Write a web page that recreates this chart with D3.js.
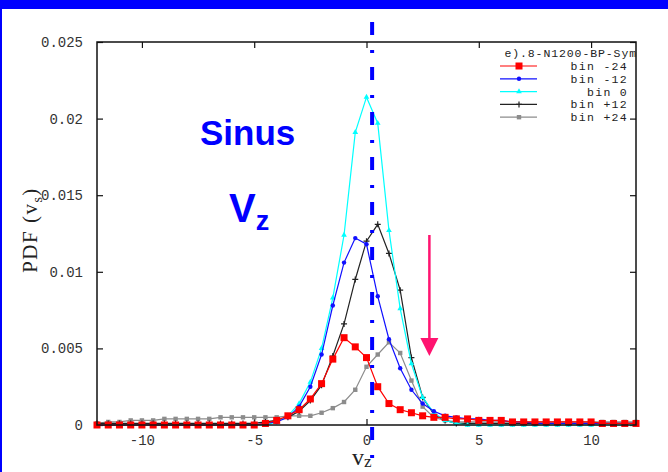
<!DOCTYPE html>
<html>
<head>
<meta charset="utf-8">
<script src="https://cdn.jsdelivr.net/npm/d3@7"></script>
<style>
  body { margin: 0; background: #fff; }
  svg { display: block; }
</style>
</head>
<body>
<svg id="chart" width="668" height="472"></svg>
<script>
// velocity bins (v_z)
const vz = [-12, -11.5, -11, -10.5, -10, -9.5, -9, -8.5, -8, -7.5, -7, -6.5, -6, -5.5, -5, -4.5, -4, -3.5,
            -3, -2.5, -2, -1.5, -1, -0.5, 0, 0.5, 1, 1.5, 2, 2.5, 3, 3.5, 4, 4.5, 5, 5.5, 6, 6.5, 7, 7.5,
            8, 8.5, 9, 9.5, 10, 10.5, 11, 11.5, 12];

const pdfBinM24 = [0, 0, 0, 0, 0, 0, 0, 0, 0, 0, 0, 0, 0, 0, 0, 0.0001, 0.0003, 0.0006,
                   0.0010, 0.0017, 0.0027, 0.0043, 0.0057, 0.0051, 0.0044, 0.0025, 0.0014, 0.0010, 0.0008, 0.0006, 0.0005, 0.0005, 0.0004, 0.0004, 0.0003, 0.0003, 0.0003, 0.0002, 0.0002, 0.0002,
                   0.0002, 0.0002, 0.0002, 0.0002, 0.0002, 0.0001, 0.0001, 0.0001, 0.0001];
const pdfBinM12 = [0, 0, 0, 0, 0, 0, 0, 0, 0, 0, 0, 0, 0, 0, 0, 0.0001, 0.0002, 0.0005,
                   0.0012, 0.0025, 0.0046, 0.0078, 0.0106, 0.0122, 0.0118, 0.0084, 0.0056, 0.0037, 0.0023, 0.0014, 0.0009, 0.0006, 0.0005, 0.0004, 0.0004, 0.0003, 0.0003, 0.0002, 0.0002, 0.0001,
                   0.0001, 0.0001, 0.0001, 0.0001, 0.0001, 0.0001, 0.0001, 0.0001, 0.0001];
const pdfBin0 = [0, 0, 0, 0, 0, 0, 0, 0, 0, 0, 0, 0, 0, 0, 0, 0, 0.0002, 0.0006,
                 0.0014, 0.0028, 0.0050, 0.0083, 0.0124, 0.0191, 0.0214, 0.0197, 0.0127, 0.0076, 0.0040, 0.0018, 0.0008, 0.0003, 0.0001, 0, 0, 0, 0, 0, 0, 0,
                 0, 0, 0, 0, 0, 0, 0, 0, 0];
const pdfBinP12 = [0.0001, 0.0001, 0.0001, 0.0001, 0.0001, 0.0001, 0.0001, 0.0001, 0.0001, 0.0001, 0.0001, 0.0001, 0.0001, 0.0001, 0.0001, 0.0002, 0.0003, 0.0005,
                   0.0009, 0.0016, 0.0026, 0.0045, 0.0066, 0.0095, 0.0120, 0.0131, 0.0112, 0.0088, 0.0044, 0.0018, 0.0007, 0.0003, 0.0001, 0.0001, 0.0001, 0.0001, 0.0001, 0.0001, 0.0001, 0.0001,
                   0.0001, 0.0001, 0.0001, 0.0001, 0.0001, 0.0001, 0.0001, 0.0001, 0.0001];
const pdfBinP24 = [0.0001, 0.0002, 0.0002, 0.0003, 0.0003, 0.0003, 0.0004, 0.0004, 0.0004, 0.0004, 0.0004, 0.0005, 0.0005, 0.0005, 0.0005, 0.0005, 0.0005, 0.0006,
                   0.0006, 0.0006, 0.0008, 0.0011, 0.0015, 0.0023, 0.0038, 0.0046, 0.0054, 0.0047, 0.0029, 0.0012, 0.0005, 0.0003, 0.0002, 0.0002, 0.0002, 0.0002, 0.0002, 0.0002, 0.0002, 0.0002,
                   0.0002, 0.0002, 0.0002, 0.0002, 0.0002, 0.0002, 0.0002, 0.0002, 0.0002];

const binNames = ["bin -24", "bin -12", "bin 0", "bin +12", "bin +24"];
const legendTitle = "e).8-N1200-BP-Sym";

const xTicks = [-10, -5, 0, 5, 10];
const xTickLabels = ["-10", "-5", "0", "5", "10"];
const yTicks = [0, 0.005, 0.01, 0.015, 0.02, 0.025];
const yTickLabels = ["0", "0.005", "0.01", "0.015", "0.02", "0.025"];

const series = [
  { name: binNames[0], values: pdfBinM24, color: "#ff0000", marker: "square" },
  { name: binNames[1], values: pdfBinM12, color: "#1010ff", marker: "circle" },
  { name: binNames[2], values: pdfBin0,   color: "#00ffff", marker: "triangle" },
  { name: binNames[3], values: pdfBinP12, color: "#222222", marker: "plus" },
  { name: binNames[4], values: pdfBinP24, color: "#8c8c8c", marker: "smallsquare" }
];

const W = 668, H = 472;
const plot = { left: 97, right: 636, top: 42, bottom: 425 };

const svg = d3.select("#chart");

const x = d3.scaleLinear().domain([-12, 12]).range([plot.left, plot.right]);
const y = d3.scaleLinear().domain([0, 0.025]).range([plot.bottom, plot.top]);

// slide decoration: blue band on top and a thin blue left edge
svg.append("rect").attr("x", 0).attr("y", 0).attr("width", W).attr("height", 9).attr("fill", "#0000ff");
svg.append("rect").attr("x", 0).attr("y", 0).attr("width", 2).attr("height", H).attr("fill", "#0000ff");

const tickFont = "'Liberation Mono', 'DejaVu Sans Mono', monospace";

function styleAxis(g) {
  g.select(".domain").remove();
  g.selectAll(".tick line").attr("stroke", "#111").attr("stroke-width", 1.2);
  g.selectAll(".tick text")
    .attr("fill", "#333")
    .style("font-family", tickFont)
    .style("font-size", "14px");
}

// axes with inward ticks, mirrored on top and right
svg.append("g")
  .attr("transform", `translate(${plot.left},0)`)
  .call(d3.axisLeft(y).tickValues(yTicks).tickFormat((d, i) => yTickLabels[i])
    .tickSizeInner(-6).tickSizeOuter(0).tickPadding(14))
  .call(styleAxis);

svg.append("g")
  .attr("transform", `translate(${plot.right},0)`)
  .call(d3.axisRight(y).tickValues(yTicks).tickFormat("").tickSizeInner(-6).tickSizeOuter(0))
  .call(styleAxis);

svg.append("g")
  .attr("transform", `translate(0,${plot.bottom})`)
  .call(d3.axisBottom(x).tickValues(xTicks).tickFormat((d, i) => xTickLabels[i])
    .tickSizeInner(-6).tickSizeOuter(0).tickPadding(10))
  .call(styleAxis);

svg.append("g")
  .attr("transform", `translate(0,${plot.top})`)
  .call(d3.axisTop(x).tickValues(xTicks).tickFormat("").tickSizeInner(-6).tickSizeOuter(0))
  .call(styleAxis);

// curves
const line = d3.line().x((d, i) => x(vz[i])).y(d => y(d));

function drawMarker(g, type, color) {
  if (type === "square") {
    g.append("rect").attr("x", -3.5).attr("y", -3.5).attr("width", 7).attr("height", 7).attr("fill", color);
  } else if (type === "circle") {
    g.append("circle").attr("r", 2.2).attr("fill", color);
  } else if (type === "triangle") {
    g.append("path").attr("d", d3.symbol(d3.symbolTriangle, 14)()).attr("fill", color);
  } else if (type === "plus") {
    g.append("path").attr("d", "M-3,0H3M0,-3V3").attr("stroke", color).attr("stroke-width", 1.2);
  } else {
    g.append("rect").attr("x", -2.2).attr("y", -2.2).attr("width", 4.4).attr("height", 4.4).attr("fill", color);
  }
}

const drawOrder = [4, 3, 2, 1, 0];
drawOrder.forEach(k => {
  const s = series[k];
  const g = svg.append("g").attr("class", "series");
  g.append("path")
    .attr("d", line(s.values))
    .attr("fill", "none")
    .attr("stroke", s.color)
    .attr("stroke-width", 1.2);
  s.values.forEach((v, i) => {
    const m = g.append("g").attr("transform", `translate(${x(vz[i])},${y(v)})`);
    drawMarker(m, s.marker, s.color);
  });
});

// frame
svg.append("rect")
  .attr("x", plot.left).attr("y", plot.top)
  .attr("width", plot.right - plot.left).attr("height", plot.bottom - plot.top)
  .attr("fill", "none").attr("stroke", "#111").attr("stroke-width", 1.5);

// legend
const legend = svg.append("g")
  .style("font-family", tickFont).style("font-size", "11.5px").style("letter-spacing", "1.3px")
  .attr("fill", "#222");
legend.append("text").attr("x", 637).attr("y", 57).attr("text-anchor", "end")
  .style("letter-spacing", "0.9px").text(legendTitle);
series.forEach((s, i) => {
  const ly = 66 + i * 12.8;
  legend.append("line").attr("x1", 500).attr("x2", 537).attr("y1", ly).attr("y2", ly)
    .attr("stroke", s.color).attr("stroke-width", 1.2);
  drawMarker(legend.append("g").attr("transform", `translate(519,${ly})`), s.marker, s.color);
  legend.append("text").attr("x", 628).attr("y", ly + 4).attr("text-anchor", "end").text(s.name);
});

// axis titles
const serif = "'Liberation Serif', 'DejaVu Serif', serif";
const yTitle = svg.append("text")
  .attr("transform", "translate(37,230) rotate(-90)")
  .attr("text-anchor", "middle")
  .style("font-family", serif).style("font-size", "21px").style("letter-spacing", "1.5px")
  .attr("fill", "#222");
yTitle.append("tspan").text("PDF (v");
yTitle.append("tspan").attr("dy", 5).style("font-size", "14px").text("s");
yTitle.append("tspan").attr("dy", -5).text(")");

const xTitle = svg.append("text")
  .attr("x", 352).attr("y", 465)
  .style("font-family", serif).style("font-size", "24px")
  .attr("fill", "#222");
xTitle.append("tspan").text("v");
xTitle.append("tspan").attr("dy", 2).style("font-size", "17px").text("z");

// v_z = 0 marker line
svg.append("line")
  .attr("x1", x(0.25)).attr("x2", x(0.25))
  .attr("y1", 22).attr("y2", H)
  .attr("stroke", "#0000ff").attr("stroke-width", 4)
  .attr("stroke-dasharray", "13,15,3,14")
  .attr("stroke-dashoffset", 0);

// labels
const sans = "Arial, 'Liberation Sans', sans-serif";
svg.append("text").attr("x", 200).attr("y", 145)
  .style("font-family", sans).style("font-weight", "bold").style("font-size", "35px")
  .attr("fill", "#0000ff").text("Sinus");
const vzLabel = svg.append("text").attr("x", 229).attr("y", 222)
  .style("font-family", sans).style("font-weight", "bold").style("font-size", "40px")
  .attr("fill", "#0000ff");
vzLabel.append("tspan").text("V");
vzLabel.append("tspan").attr("dy", 8).style("font-size", "27px").text("z");

// arrow
const arrowX = x(2.8);
svg.append("line")
  .attr("x1", arrowX).attr("x2", arrowX).attr("y1", 235).attr("y2", 342)
  .attr("stroke", "#ff1470").attr("stroke-width", 2.5);
svg.append("path")
  .attr("d", `M${arrowX - 9},338 L${arrowX + 9},338 L${arrowX},356 Z`)
  .attr("fill", "#ff1470");
</script>
</body>
</html>
